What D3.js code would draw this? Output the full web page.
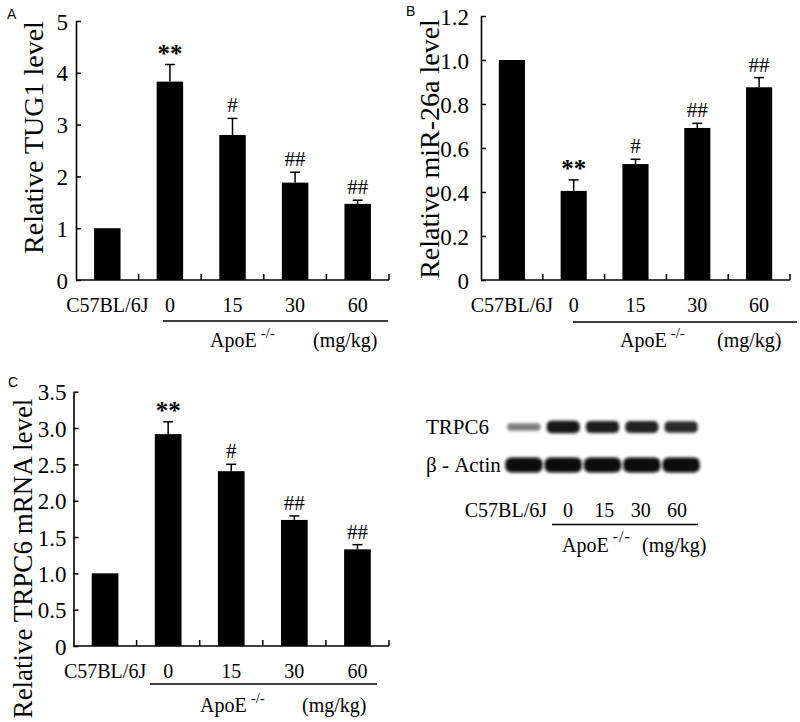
<!DOCTYPE html>
<html>
<head>
<meta charset="utf-8">
<script src="https://cdn.jsdelivr.net/npm/d3@7"></script>
<style>
  body { margin: 0; background: #fff; }
  svg { display: block; }
</style>
</head>
<body>
<script>
// ---------- DATA ----------
const categories = ["C57BL/6J", "0", "15", "30", "60"];

const tugValues = [1.0, 3.83, 2.80, 1.88, 1.47];
const tugErrors = [0, 0.33, 0.32, 0.20, 0.07];
const tugMarks = ["", "**", "#", "##", "##"];
const tugTicks = [0, 1, 2, 3, 4, 5];
const tugTickLabels = ["0", "1", "2", "3", "4", "5"];

const mirValues = [1.0, 0.405, 0.527, 0.691, 0.876];
const mirErrors = [0, 0.05, 0.022, 0.021, 0.044];
const mirMarks = ["", "**", "#", "##", "##"];
const mirTicks = [0, 0.2, 0.4, 0.6, 0.8, 1.0, 1.2];
const mirTickLabels = ["0", "0.2", "0.4", "0.6", "0.8", "1.0", "1.2"];

const trpValues = [1.0, 2.916, 2.406, 1.735, 1.33];
const trpErrors = [0, 0.17, 0.095, 0.055, 0.065];
const trpMarks = ["", "**", "#", "##", "##"];
const trpTicks = [0, 0.5, 1.0, 1.5, 2.0, 2.5, 3.0, 3.5];
const trpTickLabels = ["0", "0.5", "1.0", "1.5", "2.0", "2.5", "3.0", "3.5"];

const blotRows = ["TRPC6", "β - Actin"];
const trpc6Intensity = [0.5, 0.97, 0.93, 0.9, 0.86];
const actinIntensity = [1, 1, 1, 1, 1];
const doseLabels = ["0", "15", "30", "60"];

// ---------- DRAWING ----------
const SERIF = "'Liberation Serif', 'Times New Roman', serif";
const SANS = "'Liberation Sans', Arial, sans-serif";

const svg = d3.select("body").append("svg")
  .attr("width", 800).attr("height", 722)
  .style("background", "#fff");

function panel(o) {
  const g = svg.append("g");
  const x = d3.scaleBand().domain(categories).range([o.x0, o.x1])
    .paddingInner(0.577).paddingOuter(0.2885);
  const y = d3.scaleLinear().domain([0, o.ymax]).range([o.y0, o.yTop]);

  // y axis
  const yAxis = d3.axisLeft(y).tickValues(o.ticks)
    .tickFormat((d, i) => o.tickLabels[i])
    .tickSizeInner(-5).tickSizeOuter(0).tickPadding(o.tickPad);
  const ya = g.append("g").attr("transform", `translate(${o.x0},0)`).call(yAxis);
  ya.select(".domain").attr("stroke", "#000").attr("stroke-width", 1.6);
  ya.selectAll(".tick line").attr("stroke", "#000").attr("stroke-width", 1.5);
  ya.selectAll(".tick text").attr("font-family", SERIF).attr("font-size", 23)
    .attr("fill", "#000").attr("dy", "0.35em");

  // x axis line + inward ticks at band boundaries
  g.append("line").attr("x1", o.x0).attr("x2", o.x1).attr("y1", o.y0).attr("y2", o.y0)
    .attr("stroke", "#000").attr("stroke-width", 1.6);
  const step = x.step();
  g.selectAll(".xt").data(d3.range(1, categories.length + 1)).join("line")
    .attr("x1", i => o.x0 + i * step).attr("x2", i => o.x0 + i * step)
    .attr("y1", o.y0).attr("y2", o.y0 - 6)
    .attr("stroke", "#000").attr("stroke-width", 1.5);

  const data = categories.map((c, i) => ({ c, v: o.values[i], e: o.errors[i], m: o.marks[i] }));

  // bars
  g.selectAll(".bar").data(data).join("rect")
    .attr("x", d => x(d.c)).attr("width", x.bandwidth())
    .attr("y", d => y(d.v)).attr("height", d => y(0) - y(d.v))
    .attr("fill", "#000");

  // error bars
  const eb = data.filter(d => d.e > 0);
  const cx = d => x(d.c) + x.bandwidth() / 2;
  g.selectAll(".ev").data(eb).join("line")
    .attr("x1", cx).attr("x2", cx)
    .attr("y1", d => y(d.v)).attr("y2", d => y(d.v + d.e))
    .attr("stroke", "#000").attr("stroke-width", 1.5);
  g.selectAll(".ec").data(eb).join("line")
    .attr("x1", d => cx(d) - 5).attr("x2", d => cx(d) + 5)
    .attr("y1", d => y(d.v + d.e)).attr("y2", d => y(d.v + d.e))
    .attr("stroke", "#000").attr("stroke-width", 1.5);

  // significance marks
  g.selectAll(".mk").data(data.filter(d => d.m)).join("text")
    .attr("x", cx)
    .attr("y", d => y(d.v + d.e) - (d.m[0] === "*" ? 2.5 : 6))
    .attr("text-anchor", "middle")
    .attr("font-family", SERIF)
    .attr("font-size", d => d.m[0] === "*" ? 25 : 21)
    .attr("font-weight", d => d.m[0] === "*" ? "bold" : "normal")
    .text(d => d.m);

  // category labels
  g.selectAll(".cl").data(categories).join("text")
    .attr("x", c => x(c) + x.bandwidth() / 2)
    .attr("y", o.catY)
    .attr("text-anchor", "middle")
    .attr("font-family", SERIF).attr("font-size", 20)
    .text(c => c);

  // group underline and ApoE label
  g.append("line").attr("x1", o.ul[0]).attr("x2", o.ul[1]).attr("y1", o.ulY).attr("y2", o.ulY)
    .attr("stroke", "#000").attr("stroke-width", 1.5);
  const ap = g.append("text").attr("x", o.apoX).attr("y", o.apoY)
    .attr("font-family", SERIF).attr("font-size", 20);
  ap.append("tspan").text("ApoE");
  ap.append("tspan").attr("dx", 4).attr("dy", -9).attr("font-size", 15).text("-/-");
  g.append("text").attr("x", o.mgX).attr("y", o.apoY)
    .attr("font-family", SERIF).attr("font-size", 20).text("(mg/kg)");

  // y label
  g.append("text")
    .attr("transform", `translate(${o.ylX},${o.ylY}) rotate(-90)`)
    .attr("text-anchor", "middle")
    .attr("font-family", SERIF).attr("font-size", o.ylSize)
    .text(o.ylabel);

  // panel letter
  g.append("text").attr("x", o.letter[1]).attr("y", o.letter[2])
    .attr("font-family", SANS).attr("font-size", 14).text(o.letter[0]);
}

panel({
  x0: 76, x1: 389, y0: 280, yTop: 21, ymax: 5,
  values: tugValues, errors: tugErrors, marks: tugMarks,
  ticks: tugTicks, tickLabels: tugTickLabels, tickPad: 8,
  catY: 312, ul: [163, 388], ulY: 321, apoX: 210, mgX: 313, apoY: 347,
  ylX: 43, ylY: 137.5, ylSize: 28, ylabel: "Relative TUG1 level",
  letter: ["A", 7, 19]
});

panel({
  x0: 481, x1: 790, y0: 280, yTop: 16, ymax: 1.2,
  values: mirValues, errors: mirErrors, marks: mirMarks,
  ticks: mirTicks, tickLabels: mirTickLabels, tickPad: 12,
  catY: 312, ul: [573, 797], ulY: 322, apoX: 620, mgX: 717, apoY: 347,
  ylX: 439, ylY: 149, ylSize: 28, ylabel: "Relative miR-26a level",
  letter: ["B", 406, 16]
});

panel({
  x0: 73.5, x1: 389, y0: 646, yTop: 391.7, ymax: 3.5,
  values: trpValues, errors: trpErrors, marks: trpMarks,
  ticks: trpTicks, tickLabels: trpTickLabels, tickPad: 7,
  catY: 678, ul: [150, 377], ulY: 684, apoX: 200, mgX: 302, apoY: 712,
  ylX: 32, ylY: 558.5, ylSize: 27, ylabel: "Relative TRPC6 mRNA level",
  letter: ["C", 8, 387]
});

// ---------- WESTERN BLOT ----------
const defs = svg.append("defs");
defs.append("filter").attr("id", "blur")
  .attr("x", "-30%").attr("y", "-80%").attr("width", "160%").attr("height", "260%")
  .append("feGaussianBlur").attr("stdDeviation", 1.5);

const blot = svg.append("g");
const lane = d3.scaleBand().domain(categories).range([505, 700]).paddingInner(0.04);
const rowY = d3.scalePoint().domain(blotRows).range([427, 465]);

function bandRow(row, intens, hBase, hGain, wFrac) {
  blot.selectAll(null).data(categories.map((c, i) => ({ c, v: intens[i] }))).join("rect")
    .attr("x", d => lane(d.c) + lane.bandwidth() * (1 - wFrac) / 2)
    .attr("width", lane.bandwidth() * wFrac)
    .attr("y", d => rowY(row) - (hBase + hGain * d.v) / 2)
    .attr("height", d => hBase + hGain * d.v)
    .attr("rx", d => (hBase + hGain * d.v) / 2.5)
    .attr("fill", d => { const k = Math.round(225 * (1 - d.v) + 12); return d3.rgb(k, k, k); })
    .attr("filter", "url(#blur)");
}
bandRow("TRPC6", trpc6Intensity, 2, 11, 0.88);
bandRow("β - Actin", actinIntensity, 2, 13, 0.99);

blot.selectAll(".rl").data(blotRows).join("text")
  .attr("x", 426).attr("y", r => rowY(r) + 7)
  .attr("font-family", SERIF).attr("font-size", 21)
  .text(r => r);

blot.append("text").attr("x", 547).attr("y", 517).attr("text-anchor", "end")
  .attr("font-family", SERIF).attr("font-size", 20).text(categories[0]);
const dose = d3.scalePoint().domain(doseLabels).range([568, 677]);
blot.selectAll(".dl").data(doseLabels).join("text")
  .attr("x", d => dose(d)).attr("y", 517).attr("text-anchor", "middle")
  .attr("font-family", SERIF).attr("font-size", 20).text(d => d);
blot.append("line").attr("x1", 552).attr("x2", 698).attr("y1", 524.5).attr("y2", 524.5)
  .attr("stroke", "#000").attr("stroke-width", 1.5);
const bap = blot.append("text").attr("x", 562).attr("y", 552)
  .attr("font-family", SERIF).attr("font-size", 20);
bap.append("tspan").text("ApoE");
bap.append("tspan").attr("dx", 4).attr("dy", -10).attr("font-size", 16).attr("letter-spacing", 1).text("-/-");
blot.append("text").attr("x", 642).attr("y", 552)
  .attr("font-family", SERIF).attr("font-size", 20).text("(mg/kg)");
</script>
</body>
</html>
